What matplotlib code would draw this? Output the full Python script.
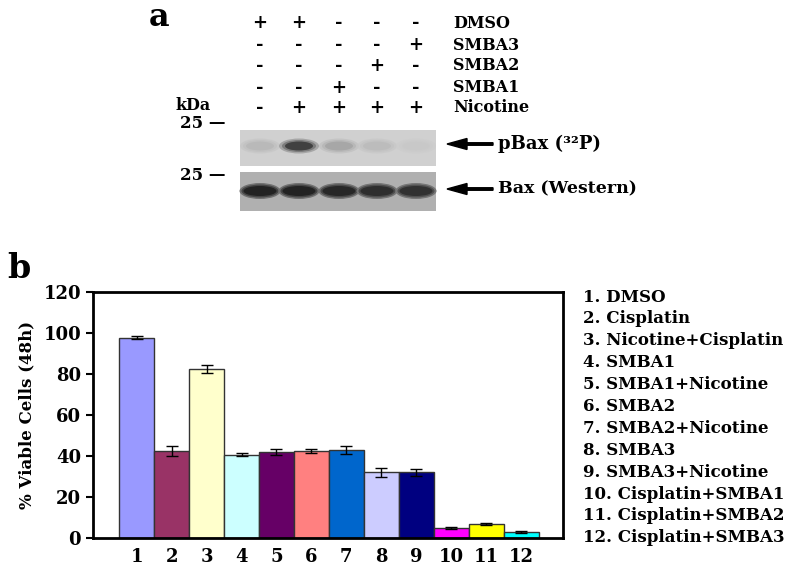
import matplotlib.pyplot as plt
from matplotlib.patches import Rectangle, Ellipse, FancyArrow

# panel a: treatment grid (rows top to bottom, 5 lanes)
treat_names = ["DMSO", "SMBA3", "SMBA2", "SMBA1", "Nicotine"]
treat_signs = [
    ["+", "+", "-", "-", "-"],
    ["-", "-", "-", "-", "+"],
    ["-", "-", "-", "+", "-"],
    ["-", "-", "+", "-", "-"],
    ["-", "+", "+", "+", "+"],
]
# band darkness per lane (0 = none, 1 = black)
pbax_band = [0.12, 0.8, 0.22, 0.1, 0.03]
bax_band = [0.8, 0.8, 0.78, 0.74, 0.72]

# panel b
groups = [str(i) for i in range(1, 13)]
viable = [97.8, 42.5, 82.4, 40.7, 41.9, 42.6, 43.0, 32.0, 32.0, 4.8, 6.8, 3.0]
viable_err = [0.5, 2.4, 2.0, 0.8, 1.4, 0.9, 1.8, 2.0, 1.8, 0.5, 0.7, 0.5]
bar_colors = ["#9999FF", "#993366", "#FFFFCC", "#CCFFFF", "#660066", "#FF8080",
              "#0066CC", "#CCCCFF", "#000080", "#FF00FF", "#FFFF00", "#00FFFF"]
group_names = ["DMSO", "Cisplatin", "Nicotine+Cisplatin", "SMBA1", "SMBA1+Nicotine",
               "SMBA2", "SMBA2+Nicotine", "SMBA3", "SMBA3+Nicotine",
               "Cisplatin+SMBA1", "Cisplatin+SMBA2", "Cisplatin+SMBA3"]

plt.rcParams['font.family'] = 'DejaVu Serif'
plt.rcParams['font.weight'] = 'bold'
fs = 11.5

fig = plt.figure(figsize=(8, 5.68), dpi=100)

# overlay in pixel coordinates for panel a and labels
ov = fig.add_axes([0, 0, 1, 1])
ov.set_xlim(0, 800)
ov.set_ylim(568, 0)
ov.axis('off')

ov.text(149, 26, "a", fontsize=23, fontweight='bold', ha='left', va='baseline')
ov.text(7, 278, "b", fontsize=24, fontweight='bold', ha='left', va='baseline')

lane_x = [260, 299, 339, 377, 416]
row_y = [23, 45, 66, 88, 108]
for r, name in enumerate(treat_names):
    for l, s in enumerate(treat_signs[r]):
        ov.text(lane_x[l], row_y[r], s, fontsize=13, fontweight='bold', ha='center', va='center')
    ov.text(453, row_y[r], name, fontsize=fs, fontweight='bold', ha='left', va='center')
ov.text(175, 106, "kDa", fontsize=fs, fontweight='bold', ha='left', va='center')
ov.text(180, 123, "25 —", fontsize=fs + 0.5, fontweight='bold', ha='left', va='center')
ov.text(180, 175, "25 —", fontsize=fs + 0.5, fontweight='bold', ha='left', va='center')

# blots
ov.add_patch(Rectangle((240, 130), 196, 36, facecolor="#d0d0d0", edgecolor='none'))
ov.add_patch(Rectangle((240, 172), 196, 39, facecolor="#b0b0b0", edgecolor='none'))
for l, x in enumerate(lane_x):
    v = pbax_band[l]
    for k, a in enumerate([0.35, 0.6, 1.0]):
        g = 0.81 * (1 - v * a)
        ov.add_patch(Ellipse((x, 146), 40 - 6 * k, 15 - 3 * k, facecolor=(g, g, g),
                             edgecolor='none', alpha=0.7))
    v = bax_band[l]
    for k, a in enumerate([0.45, 0.75, 1.0]):
        g = 0.69 * (1 - v * a)
        ov.add_patch(Ellipse((x, 191), 41 - 4 * k, 16 - 3 * k, facecolor=(g, g, g),
                             edgecolor='none'))

for y in [144, 189]:
    ov.add_patch(FancyArrow(493, y, -46, 0, width=2.5, head_width=11, head_length=20,
                            length_includes_head=True, color='black'))
ov.text(498, 144, "pBax (³²P)", fontsize=13, fontweight='bold', ha='left', va='center')
ov.text(498, 189, "Bax (Western)", fontsize=12.5, fontweight='bold', ha='left', va='center')

# panel b bar chart
ax = fig.add_axes([93 / 800, 30 / 568, 470 / 800, 246 / 568])
x = list(range(1, 13))
ax.bar(x, viable, width=1.0, color=bar_colors, edgecolor='#333333', linewidth=1,
       yerr=viable_err, error_kw=dict(ecolor='black', elinewidth=1, capsize=4, capthick=1))
ax.set_xlim(-0.25, 13.2)
ax.set_ylim(0, 120)
ax.set_yticks(range(0, 121, 20))
ax.set_xticks(x)
ax.set_xticklabels(groups)
ax.tick_params(axis='x', length=0, pad=7, labelsize=13)
ax.tick_params(axis='y', length=5, width=1.5, labelsize=13)
for s in ax.spines.values():
    s.set_linewidth(2)
ax.set_ylabel("% Viable Cells (48h)", fontsize=12, fontweight='bold', labelpad=6)

for i, name in enumerate(group_names):
    ov.text(583, 297 + i * 21.9, f"{i + 1}. {name}", fontsize=12, fontweight='bold',
            ha='left', va='center')

fig.savefig("out.png", dpi=100)
